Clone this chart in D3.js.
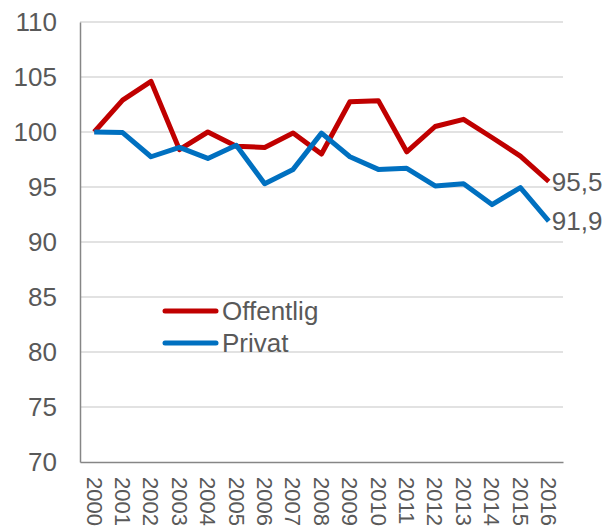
<!DOCTYPE html>
<html>
<head>
<meta charset="utf-8">
<script src="https://cdn.jsdelivr.net/npm/d3@7"></script>
<style>
  body { margin: 0; background: #fff; }
  text { font-family: "Liberation Sans", Arial, sans-serif; fill: #595959; }
</style>
</head>
<body>
<svg id="chart" width="616" height="529"></svg>
<script>
// index values, 2000 = 100
var years = ["2000","2001","2002","2003","2004","2005","2006","2007","2008",
             "2009","2010","2011","2012","2013","2014","2015","2016"]
var offentlig = [100, 102.9, 104.6, 98.4, 100, 98.7, 98.6, 99.9, 98.0,
                 102.75, 102.85, 98.2, 100.5, 101.15, 99.5, 97.8, 95.5]
var privat = [100, 99.95, 97.75, 98.6, 97.6, 98.8, 95.3, 96.6, 99.9,
              97.75, 96.6, 96.7, 95.1, 95.3, 93.4, 94.95, 91.9]
var yTicks = [70, 75, 80, 85, 90, 95, 100, 105, 110]
var seriesNames = ["Offentlig", "Privat"]
var endLabels = ["95,5", "91,9"]
var colors = ["#c00000", "#0070c0"]

function drawChart(){
  var svg = d3.select("#chart")
  var pLeft = 80, pRight = 563, pTop = 22, pBottom = 462
  var fontFam = "Liberation Sans, Arial, sans-serif"

  var x = d3.scaleBand().domain(years).range([pLeft, pRight])
  var y = d3.scaleLinear().domain([70, 110]).range([pBottom, pTop])

  // gridlines
  svg.append("g")
    .selectAll("line")
    .data(yTicks.filter(function(d){ return d > 70 }))
    .enter().append("line")
    .attr("x1", pLeft).attr("x2", pRight)
    .attr("y1", function(d){ return y(d) }).attr("y2", function(d){ return y(d) })
    .attr("stroke", "#d9d9d9").attr("stroke-width", 1.5)

  // y axis
  var yAxis = svg.append("g")
    .attr("transform", "translate(" + pLeft + ",0)")
    .call(d3.axisLeft(y).tickValues(yTicks).tickSize(0).tickPadding(23))
  yAxis.select(".domain").attr("stroke", "#868686").attr("stroke-width", 1.5)
  yAxis.selectAll("text").attr("font-size", 26).attr("font-family", fontFam)
    .style("fill", "#595959")

  // x axis
  var xAxis = svg.append("g")
    .attr("transform", "translate(0," + pBottom + ")")
    .call(d3.axisBottom(x).tickSize(0).tickPadding(0))
  xAxis.select(".domain").attr("stroke", "#868686").attr("stroke-width", 1.5)
  xAxis.selectAll("text")
    .attr("font-size", 22)
    .attr("font-family", fontFam)
    .style("fill", "#595959")
    .attr("text-anchor", "start")
    .attr("dy", "0.35em")
    .attr("transform", "translate(0,15) rotate(90)")
    .attr("y", 0).attr("x", 0)

  // lines
  var line = d3.line()
    .x(function(d, i){ return x(years[i]) + x.bandwidth() / 2 })
    .y(function(d){ return y(d) })

  var allSeries = [offentlig, privat]
  allSeries.forEach(function(vals, k){
    svg.append("path")
      .datum(vals)
      .attr("d", line)
      .attr("fill", "none")
      .attr("stroke", colors[k])
      .attr("stroke-width", 5)
      .attr("stroke-linejoin", "round")

    var last = vals.length - 1
    svg.append("text")
      .attr("x", x(years[last]) + x.bandwidth() / 2 + 3)
      .attr("y", y(vals[last]))
      .attr("dy", "0.35em")
      .attr("font-size", 26)
      .text(endLabels[k])
  })

  // legend
  var legend = svg.append("g")
  seriesNames.forEach(function(name, k){
    var ly = 311 + k * 32
    legend.append("line")
      .attr("x1", 165).attr("x2", 216)
      .attr("y1", ly).attr("y2", ly)
      .attr("stroke", colors[k]).attr("stroke-width", 5)
      .attr("stroke-linecap", "round")
    legend.append("text")
      .attr("x", 222).attr("y", ly)
      .attr("dy", "0.35em")
      .attr("font-size", 26)
      .text(name)
  })
}
drawChart()
</script>
</body>
</html>
